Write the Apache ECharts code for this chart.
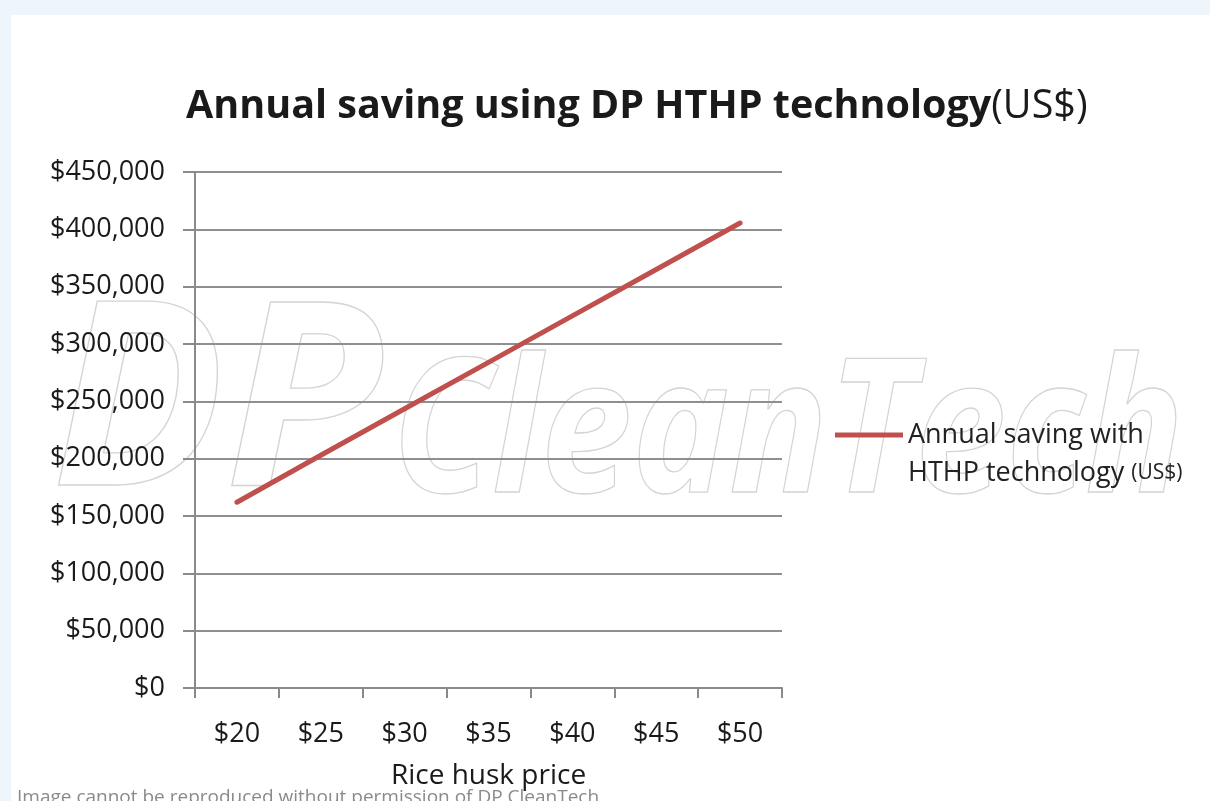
<!DOCTYPE html>
<html>
<head>
<meta charset="utf-8">
<script src="https://cdn.jsdelivr.net/npm/echarts@6/dist/echarts.min.js"></script>
<style>
  html, body { margin:0; padding:0; width:1210px; height:801px; overflow:hidden; background:#eef5fb; }
  #bg { position:absolute; left:11px; top:15px; width:1199px; height:786px; background:#ffffff; }
  #chart { position:absolute; left:0; top:0; width:1210px; height:801px; }
</style>
</head>
<body>
<div id="bg"></div>
<div id="chart"></div>
<script>
var categories = ['$20', '$25', '$30', '$35', '$40', '$45', '$50'];
var savings = [162000, 203000, 243500, 284000, 324500, 365000, 405500];
var seriesName = 'Annual saving with HTHP technology (US$)';
var titleMain = 'Annual saving using DP HTHP technology';
var titleUnit = '(US$)';
var xAxisName = 'Rice husk price';
var footerText = 'Image cannot be reproduced without permission of DP CleanTech';
var watermarkA = 'DP';
var watermarkB = 'CleanTech';

var FONT = '"Open Sans", "Liberation Sans", sans-serif';
var chart = echarts.init(document.getElementById('chart'), null, {renderer:'canvas'});

var option = {
  backgroundColor: 'transparent',
  animation: false,
  textStyle: { fontFamily: FONT },
  title: {
    text: '{b|' + titleMain + '}{n|' + titleUnit + '}',
    left: 181, top: 82,
    textStyle: {
      rich: {
        b: { fontFamily: FONT, fontWeight: 'bold', fontSize: 39.5, color: '#1a1a1a' },
        n: { fontFamily: FONT, fontWeight: 'normal', fontSize: 39.5, color: '#1a1a1a' }
      }
    }
  },
  graphic: [
    { type:'text', z: 0, silent:true,
      style: { text: watermarkA, x: 52, y: 412, verticalAlign:'middle', align:'left',
               font: 'italic bold 256px ' + FONT, fill: 'rgba(0,0,0,0)', stroke:'#d4d4d4', lineWidth:1.3 } },
    { type:'text', z: 0, silent:true, scaleX: 0.88, x: 392, y: 0,
      style: { text: watermarkB, x: 0, y: 439, verticalAlign:'middle', align:'left',
               font: 'italic bold 186px ' + FONT, fill: 'rgba(0,0,0,0)', stroke:'#d4d4d4', lineWidth:1.3 } },
    { type:'text', z: 10, silent:true,
      style: { text: footerText, x: 17, y: 788, verticalAlign:'top', align:'left',
               font: '19px ' + FONT, fill: '#8a8a8a' } }
  ],
  legend: {
    left: 830, top: 411,
    orient: 'vertical',
    icon: 'path://M0,0h68v5h-68z M0,43h0.01v0.01h-0.01z',
    itemWidth: 68, itemHeight: 43,
    itemGap: 0,
    data: [seriesName],
    formatter: function () {
      return '{a|Annual saving with}\n{a|HTHP technology }{d|(US$)}';
    },
    textStyle: {
      lineHeight: 38,
      rich: {
        a: { fontFamily: FONT, fontSize: 27, color: '#222', lineHeight: 38 },
        d: { fontFamily: FONT, fontSize: 21, color: '#222', lineHeight: 38 }
      }
    }
  },
  grid: { left: 195, right: 428, top: 172, bottom: 113, containLabel: false, outerBoundsMode: 'none' },
  xAxis: {
    type: 'category',
    data: categories,
    boundaryGap: true,
    name: xAxisName,
    nameLocation: 'middle',
    nameGap: 74,
    nameTextStyle: { fontFamily: FONT, fontSize: 28, color: '#1a1a1a' },
    axisLine: { show: true, lineStyle: { color: '#8a8a8a', width: 2 } },
    axisTick: { show: true, length: 10, lineStyle: { color: '#8a8a8a', width: 2 } },
    axisLabel: { margin: 33, fontFamily: FONT, fontSize: 27, color: '#1a1a1a' },
    splitLine: { show: false }
  },
  yAxis: {
    type: 'value',
    min: 0, max: 450000, interval: 50000,
    axisLine: { show: true, lineStyle: { color: '#8a8a8a', width: 2 } },
    axisTick: { show: true, length: 12, lineStyle: { color: '#8a8a8a', width: 2 } },
    axisLabel: {
      margin: 30, fontFamily: FONT, fontSize: 27, color: '#1a1a1a',
      formatter: function (v) { return '$' + v.toLocaleString('en-US'); }
    },
    splitLine: { show: true, lineStyle: { color: '#8f8f8f', width: 2 } }
  },
  series: [{
    name: seriesName,
    type: 'line',
    data: savings,
    showSymbol: false,
    symbol: 'none',
    color: '#c0504d',
    lineStyle: { color: '#c0504d', width: 5, cap: 'round' },
    z: 5
  }]
};
chart.setOption(option);
</script>
</body>
</html>
